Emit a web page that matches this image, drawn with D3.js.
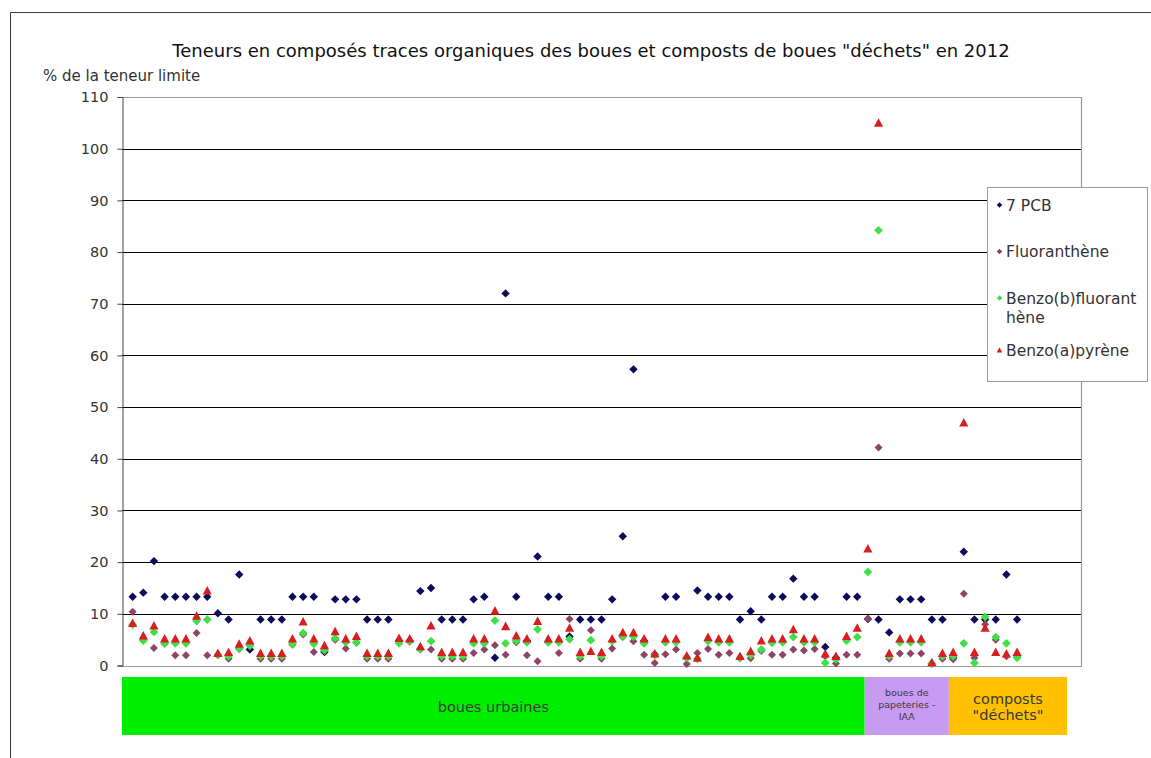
<!DOCTYPE html>
<html>
<head>
<meta charset="utf-8">
<script src="https://cdn.jsdelivr.net/npm/d3@7"></script>
<style>
  html, body { margin: 0; padding: 0; background: #fff; }
  svg { display: block; font-family: "DejaVu Sans", Verdana, sans-serif; }
</style>
</head>
<body>
<svg id="chart" width="1151" height="758"></svg>
<script>
// Teneurs (% de la teneur limite) par site, dans l'ordre des sites
const pcb = [13.3,14.1,20.2,13.3,13.3,13.3,13.3,13.3,10.1,8.9, 17.6,3.1,8.9,8.9,8.9,13.3,13.3,13.3,2.6,12.8,
             12.8,12.8,8.9,8.9,8.9,4.8,4.8,14.4,15.0,8.9, 8.9,8.9,12.8,13.3,1.5,72.0,13.3,4.8,21.1,13.3,
             13.3,5.6,8.9,8.9,8.9,12.8,25.0,57.3,4.8,2.2, 13.3,13.3,1.5,14.5,13.3,13.3,13.3,8.9,10.5,8.9,
             13.3,13.3,16.8,13.3,13.3,3.6,1.5,13.3,13.3,9.0, 8.9,6.4,12.8,12.8,12.8,8.9,8.9,1.5,22.0,8.9,
             8.9,8.9,17.6,8.9];
const fluoranthene = [10.4,5.0,3.4,4.2,2.0,2.0,6.3,2.0,2.0,1.3, 3.2,4.0,1.3,1.3,1.3,4.0,6.0,2.6,2.8,5.0,
             3.3,4.4,1.3,1.3,1.3,4.8,4.6,3.1,3.1,1.3, 1.3,1.3,2.4,3.1,3.9,2.1,4.5,2.0,0.8,4.5,
             2.4,9.0,1.3,6.8,1.3,3.3,5.5,4.7,2.1,0.5, 2.2,3.1,0.3,2.4,3.2,2.1,2.4,1.4,1.4,2.8,
             2.1,2.1,3.1,2.9,3.2,1.8,0.4,2.1,2.1,9.0, 42.2,1.3,2.3,2.3,2.3,0.3,1.3,1.2,13.9,1.5,
             8.0,5.0,1.8,1.7];
const benzoB = [7.9,4.8,6.5,4.3,4.3,4.3,8.6,8.9,2.1,1.8, 3.3,3.8,1.8,1.8,1.8,4.2,6.3,4.2,3.0,5.3,
             4.5,4.5,1.8,1.8,1.8,4.3,4.7,3.2,4.7,1.8, 1.8,1.8,4.3,4.3,8.7,4.3,4.8,4.5,7.0,4.5,
             4.5,5.1,1.8,4.9,1.8,4.7,5.7,5.6,4.3,2.0, 4.5,4.5,1.5,1.3,4.7,4.5,4.5,1.5,2.0,3.1,
             4.4,4.5,5.5,4.5,4.5,0.5,1.2,4.8,5.5,18.1, 84.2,1.8,4.5,4.5,4.5,0.4,1.8,1.8,4.3,0.5,
             9.4,5.5,4.3,1.5];
const benzoA = [8.2,5.8,7.7,5.2,5.2,5.2,9.6,14.5,2.4,2.6, 4.2,4.8,2.4,2.4,2.4,5.2,8.5,5.2,3.9,6.6,
             5.2,5.7,2.4,2.4,2.4,5.3,5.2,3.7,7.7,2.6, 2.6,2.6,5.2,5.2,10.6,7.6,5.8,5.2,8.6,5.2,
             5.2,7.3,2.6,2.8,2.6,5.2,6.4,6.4,5.2,2.3, 5.2,5.2,1.9,1.5,5.5,5.2,5.2,1.8,2.8,4.8,
             5.2,5.2,7.0,5.2,5.2,2.3,1.8,5.7,7.3,22.6, 105.0,2.4,5.2,5.2,5.2,0.6,2.4,2.6,47.0,2.6,
             7.3,2.6,2.3,2.6];

const seriesNames = ["7 PCB", "Fluoranthène", "Benzo(b)fluoranthène", "Benzo(a)pyrène"];
const legendLabels = [["7 PCB"], ["Fluoranthène"], ["Benzo(b)fluorant", "hène"], ["Benzo(a)pyrène"]];
const yTicks = [0, 10, 20, 30, 40, 50, 60, 70, 80, 90, 100, 110];

// Familles de boues : étendue sur l'axe des sites
const groupNames = [["boues urbaines"], ["boues de", "papeteries -", "IAA"], ["composts", "\"déchets\""]];
const groupStart = [0, 69.7, 77.6];
const groupEnd = [69.7, 77.6, 88.7];

const title = "Teneurs en composés traces organiques des boues et composts de boues \"déchets\" en 2012";
const yTitle = "% de la teneur limite";

// ---- rendu ----
const svg = d3.select("#chart");
const W = 1151, H = 758;
const plot = { left: 122, right: 1081, top: 97, bottom: 665.5 };

const x = d3.scaleLinear().domain([0, 90]).range([plot.left, plot.right]);
const y = d3.scaleLinear().domain([0, 110]).range([plot.bottom, plot.top]);

svg.append("rect").attr("width", W).attr("height", H).attr("fill", "#fff");

// cadre du graphique
svg.append("path").attr("d", `M10.5,${H} V12.5 H${W}`)
  .attr("fill", "none").attr("stroke", "#3a3a3a").attr("stroke-width", 1);

// titre
svg.append("text").attr("x", 591).attr("y", 56.5)
  .attr("text-anchor", "middle").attr("font-size", 18).attr("fill", "#111")
  .text(title);

svg.append("text").attr("x", 43).attr("y", 81)
  .attr("font-size", 15).attr("fill", "#333")
  .text(yTitle);

// quadrillage
svg.append("g").selectAll("line")
  .data(yTicks.filter(v => v > 0 && v < 110))
  .join("line")
  .attr("x1", plot.left).attr("x2", plot.right)
  .attr("y1", d => Math.round(y(d)) + 0.5).attr("y2", d => Math.round(y(d)) + 0.5)
  .attr("stroke", "#000").attr("stroke-width", 1);

// bordure de la zone de tracé
svg.append("path")
  .attr("d", `M${plot.left},${Math.round(y(110)) + 0.5} H${plot.right + 0.5} V${Math.round(y(0)) + 0.5} H${plot.left}`)
  .attr("fill", "none").attr("stroke", "#9a9a9a").attr("stroke-width", 1.2);

// axe vertical
const yAxis = d3.axisLeft(y).tickValues(yTicks).tickSize(5).tickPadding(9);
const gy = svg.append("g").attr("transform", `translate(${plot.left + 0.5},0)`).call(yAxis);
gy.select(".domain").attr("stroke", "#444");
gy.selectAll(".tick line").attr("stroke", "#444");
gy.selectAll(".tick text").attr("font-size", 14.5).attr("fill", "#333")
  .attr("font-family", "DejaVu Sans, Verdana, sans-serif");

// symboles
const diamond = { draw(ctx, r) { ctx.moveTo(0, -r); ctx.lineTo(r, 0); ctx.lineTo(0, r); ctx.lineTo(-r, 0); ctx.closePath(); } };
const triangle = { draw(ctx, r) { ctx.moveTo(0, -r); ctx.lineTo(r, r * 0.85); ctx.lineTo(-r, r * 0.85); ctx.closePath(); } };

const series = [
  { values: pcb, color: "#0b0b5c", type: diamond, r: 4.2 },
  { values: fluoranthene, color: "#8f4467", type: diamond, r: 4.0 },
  { values: benzoB, color: "#3ee046", type: diamond, r: 4.4 },
  { values: benzoA, color: "#d81e1e", type: triangle, r: 4.6 }
];

const marks = svg.append("g");
series.forEach(s => {
  marks.append("g").selectAll("path")
    .data(s.values.map((v, i) => ({ site: i + 1, v })))
    .join("path")
    .attr("transform", d => `translate(${x(d.site)},${y(d.v)})`)
    .attr("d", d3.symbol().type(s.type).size(s.r))
    .attr("fill", s.color);
});

// bandeaux des familles
const bands = svg.append("g");
groupNames.forEach((lines, i) => {
  const colors = ["#00ee00", "#c79bf2", "#ffc000"];
  const x0 = x(groupStart[i]), x1 = x(groupEnd[i]);
  bands.append("rect").attr("x", x0).attr("y", 677).attr("width", x1 - x0).attr("height", 58)
    .attr("fill", colors[i]);
  const small = i === 1;
  const lh = small ? 12 : 16;
  const fs = small ? 9.5 : 14.5;
  const cy = small ? 705 : 706.5;
  lines.forEach((t, k) => {
    bands.append("text")
      .attr("x", (x0 + x1) / 2)
      .attr("y", cy + (k - (lines.length - 1) / 2) * lh)
      .attr("dy", "0.35em")
      .attr("text-anchor", "middle").attr("font-size", fs).attr("fill", "#3a3a3a")
      .text(t);
  });
});

// légende
const lg = svg.append("g");
lg.append("rect").attr("x", 987.5).attr("y", 187.5).attr("width", 160).attr("height", 194)
  .attr("fill", "#fff").attr("stroke", "#9a9a9a");
const legendY = [205, 251.5, 298, 350];
series.forEach((s, i) => {
  lg.append("path")
    .attr("transform", `translate(999.5,${legendY[i]})`)
    .attr("d", d3.symbol().type(s.type).size(2.8))
    .attr("fill", s.color);
  legendLabels[i].forEach((t, k) => {
    lg.append("text").attr("x", 1006).attr("y", legendY[i] + k * 19).attr("dy", "0.36em")
      .attr("font-size", 15.5).attr("fill", "#333").text(t);
  });
});
</script>
</body>
</html>
